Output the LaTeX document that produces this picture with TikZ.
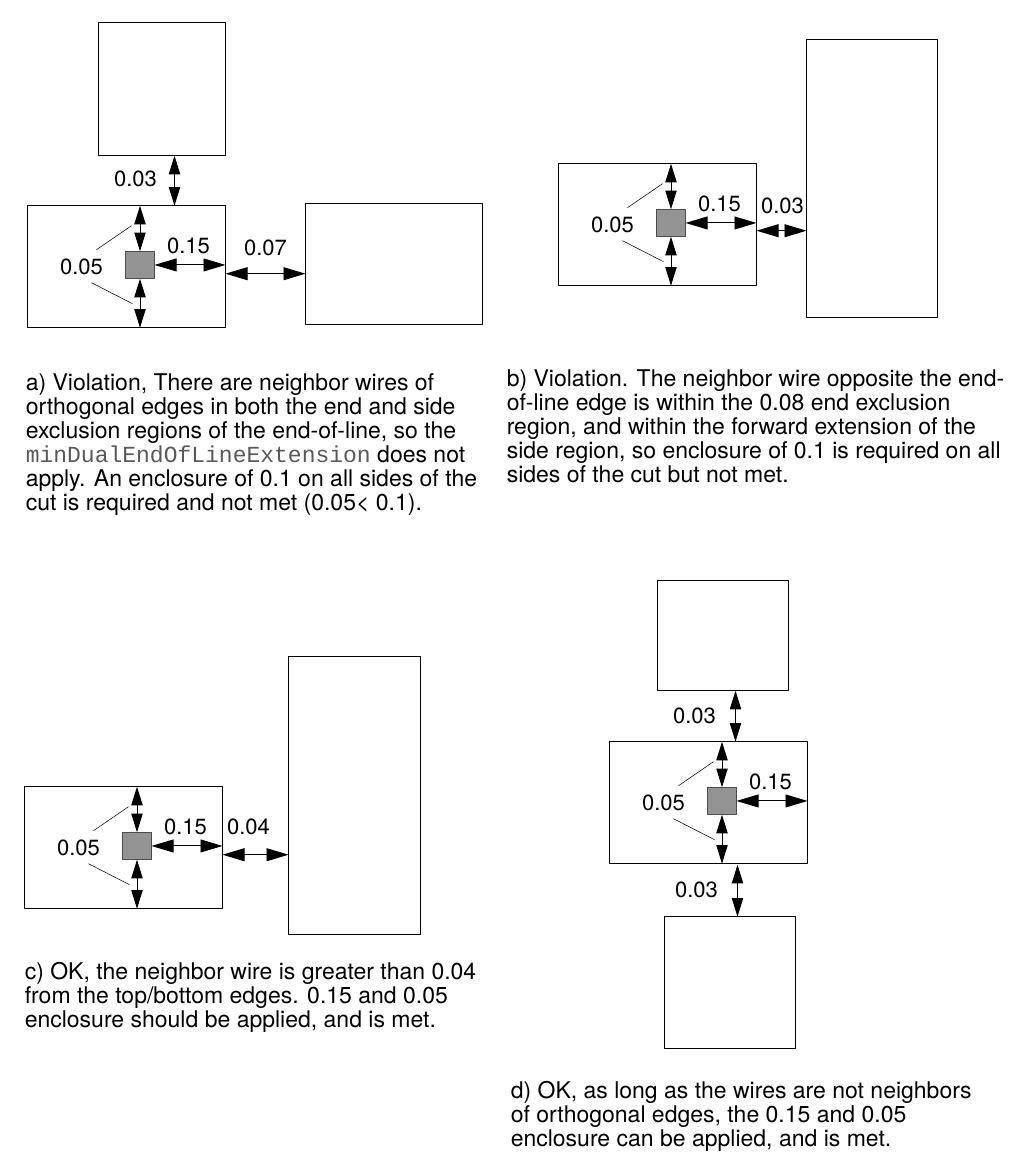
\documentclass[tikz,border=0pt]{standalone}
\usepackage{fontspec}
\setmainfont{TeX Gyre Heros}
\setmonofont{Liberation Mono}
\usetikzlibrary{arrows.meta}
\def\px{0.75pt}
\tikzset{
	wire/.style 2 args={draw, anchor=north west, inner sep=0pt, outer sep=0pt, minimum width=#1*\px, minimum height=#2*\px},
	cut/.style={draw=black!70, fill=black!42, inner sep=0pt, outer sep=0pt, anchor=north west, minimum width=29*\px, minimum height=27.5*\px},
	dist/.style={inner sep=0pt, font=\fontsize{16.5}{18}\selectfont},
	note/.style={inner sep=0pt, anchor=north west, align=left, font=\fontsize{17.25}{18}\selectfont},
	gap/.style={{Triangle[length=14pt,width=8.5pt]}-{Triangle[length=14pt,width=8.5pt]}, line width=0.7pt},
	gapside/.style={<->, line width=0.7pt}
}
\begin{document}
\begin{tikzpicture}[x=0.75pt, y=-0.75pt, line join=round, >={Triangle[length=16.5pt,width=9.7pt]}]
	\useasboundingbox (0.5,0.3) rectangle (1013.5,1175.3);
	% enclosure wire with the cut, same in all four panels
	\foreach \n/\xo/\yo in {a/28/206, b/559/164, c/25/787, d/610/742}{
		\begin{scope}[shift={(\xo,\yo)}]
			\node[wire={198}{122}] (\n) at (0,0) {};
			\node[cut] (\n cut) at (98,45.5) {};
			\draw[gap] (\n cut.north)--(\n cut.north |- \n.north);
			\draw[gap] (\n cut.south)--(\n cut.south |- \n.south);
			\draw[gapside] (\n cut.east)--(\n cut.east -| \n.east);
			\node[dist] (\n end) at (54,61) {0.05};
			\node[dist] (\n side) at (161,40) {0.15};
			\coordinate (\n p) at (69,44);
			\coordinate (\n q) at (104,20);
			\coordinate (\n r) at (64,77);
			\coordinate (\n s) at (105,98);
			\draw (\n p)--(\n q) (\n r)--(\n s);
		\end{scope}
	}
	% neighbor wires
	\node[wire={127}{133}] (atop) at (99,23) {};
	\node[wire={177}{121}] (aright) at (306,204) {};
	\node[wire={131}{278}] (bright) at (807,40) {};
	\node[wire={132}{278}] (cright) at (289,657) {};
	\node[wire={131}{110}] (dtop) at (658,581) {};
	\node[wire={131}{132}] (dbot) at (665,917) {};
	% spacing arrows
	\coordinate (agap1) at (175,156);
	\coordinate (agap2) at (226,274);
	\coordinate (bgap) at (757,231);
	\coordinate (cgap) at (223,855);
	\coordinate (dgap1) at (736,691);
	\coordinate (dgap2) at (738,865);
	\draw[gap] (agap1)--(agap1 |- a.north);
	\draw[gapside] (agap2)--(agap2 -| aright.west);
	\draw[gapside] (bgap)--(bgap -| bright.west);
	\draw[gapside] (cgap)--(cgap -| cright.west);
	\draw[gap] (dgap1)--(dgap1 |- d.north);
	\draw[gap] (dgap2)--(dgap2 |- dbot.north);
	\node[dist] (alabel1) at (136,179) {0.03};
	\node[dist] (alabel2) at (266,248) {0.07};
	\node[dist] (blabel) at (783,206) {0.03};
	\node[dist] (clabel) at (249,827) {0.04};
	\node[dist] (dlabel1) at (695,716) {0.03};
	\node[dist] (dlabel2) at (697,890) {0.03};
	% captions
	\node[note] (atext) at (26,374) {a) Violation, There are neighbor wires of\\orthogonal edges in both the end and side\\exclusion regions of the end-of-line, so the\\{\color{black!65}\ttfamily minDualEndOfLineExtension} does not\\apply. An enclosure of 0.1 on all sides of the\\cut is required and not met (0.05< 0.1).};
	\node[note] (btext) at (507,370) {b) Violation. The neighbor wire opposite the end-\\of-line edge is within the 0.08 end exclusion\\region, and within the forward extension of the\\side region, so enclosure of 0.1 is required on all\\sides of the cut but not met.};
	\node[note] (ctext) at (25,962) {c) OK, the neighbor wire is greater than 0.04\\from the top/bottom edges. 0.15 and 0.05\\enclosure should be applied, and is met.};
	\node[note] (dtext) at (511,1081) {d) OK, as long as the wires are not neighbors\\of orthogonal edges, the 0.15 and 0.05\\enclosure can be applied, and is met.};
\end{tikzpicture}
\end{document}
